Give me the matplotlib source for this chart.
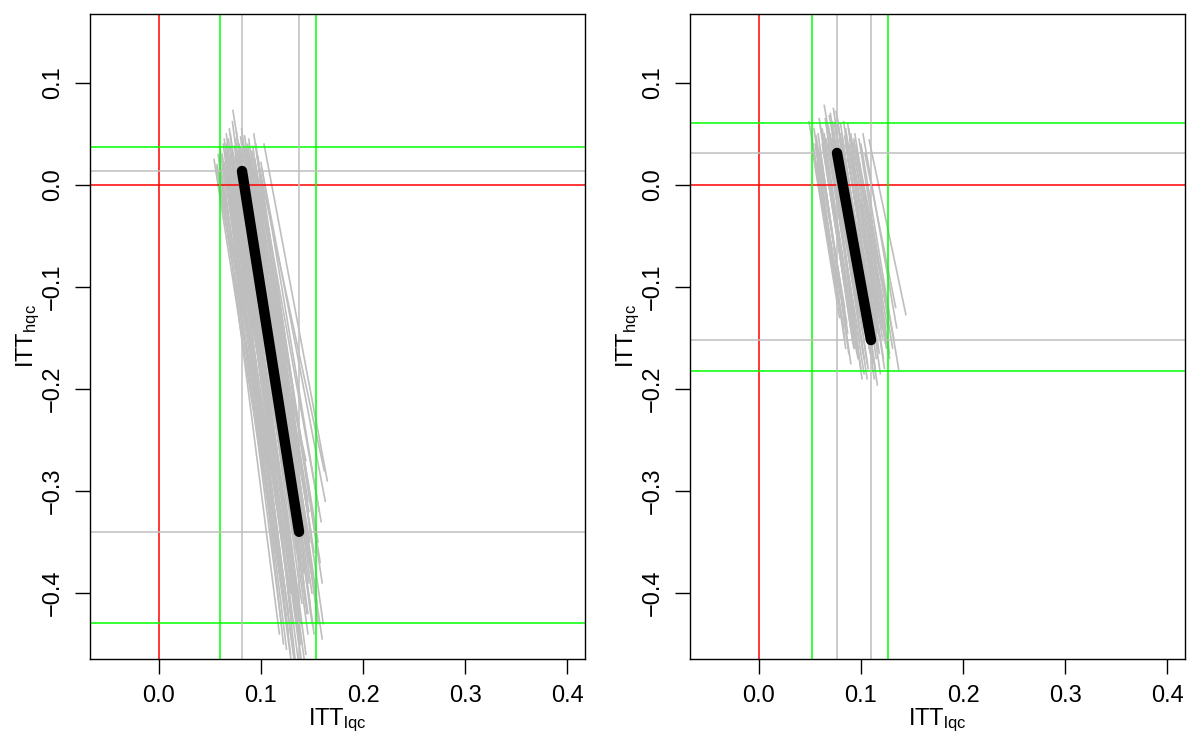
import matplotlib
matplotlib.use('Agg')
from matplotlib import pyplot as plt

plt.rcParams['font.family'] = ['Liberation Sans', 'DejaVu Sans']
plt.rcParams['mathtext.fontset'] = 'custom'
plt.rcParams['mathtext.rm'] = 'Liberation Sans'
plt.rcParams['mathtext.it'] = 'Liberation Sans'

# ---- left panel ----
# grey bootstrap segments: x_top, y_top, x_bottom, y_bottom
left_x0 = [0.0725, 0.066, 0.054, 0.057, 0.060, 0.062, 0.064, 0.068, 0.070, 0.074,
           0.076, 0.078, 0.080, 0.082, 0.085, 0.087, 0.089, 0.091, 0.094, 0.096,
           0.100, 0.103, 0.098, 0.058, 0.061, 0.065, 0.071, 0.073, 0.079, 0.083,
           0.086, 0.090, 0.093, 0.069, 0.067, 0.077, 0.081, 0.088, 0.095, 0.084,
           0.0635, 0.0655, 0.0675, 0.0695, 0.0715, 0.0735, 0.0755, 0.0775, 0.0795, 0.0805,
           0.0825, 0.0845, 0.0865, 0.0885, 0.0905, 0.0925, 0.0945, 0.0965, 0.0990, 0.1010,
           0.0600, 0.0560, 0.0590, 0.0630, 0.0660, 0.0690, 0.0720, 0.0750, 0.0810, 0.0840,
           0.0870, 0.0920, 0.0970, 0.0765, 0.0785, 0.0855, 0.0895, 0.0705, 0.0745, 0.0835,
           0.0580, 0.0640, 0.0700, 0.0930]
left_y0 = [0.073, 0.040, 0.025, 0.020, 0.035, 0.030, 0.022, 0.045, 0.050, 0.038,
           0.052, 0.030, 0.047, 0.042, 0.035, 0.040, 0.028, 0.033, 0.025, 0.030,
           0.022, 0.040, 0.018, 0.010, 0.005, 0.015, 0.012, 0.020, 0.015, 0.018,
           0.010, 0.012, 0.005, 0.028, 0.000, 0.005, 0.025, 0.045, 0.040, 0.000,
           0.018, 0.032, 0.010, 0.038, 0.026, 0.008, 0.034, 0.022, 0.036, 0.008,
           0.030, 0.022, 0.028, 0.018, 0.024, 0.016, 0.012, 0.008, 0.004, 0.015,
           0.015, 0.018, 0.028, 0.040, 0.050, 0.055, 0.062, 0.045, 0.055, 0.048,
           0.035, 0.038, 0.028, 0.012, 0.040, 0.006, 0.002, 0.004, 0.028, 0.014,
           0.030, 0.045, 0.035, 0.050]
left_x1 = [0.136, 0.124, 0.111, 0.118, 0.120, 0.130, 0.132, 0.128, 0.135, 0.138,
           0.140, 0.142, 0.145, 0.139, 0.147, 0.150, 0.152, 0.146, 0.153, 0.158,
           0.157, 0.165, 0.162, 0.116, 0.125, 0.127, 0.133, 0.137, 0.141, 0.143,
           0.148, 0.155, 0.160, 0.122, 0.126, 0.131, 0.134, 0.149, 0.156, 0.144,
           0.121, 0.126, 0.129, 0.131, 0.134, 0.132, 0.139, 0.138, 0.144, 0.140,
           0.146, 0.143, 0.148, 0.147, 0.151, 0.152, 0.154, 0.156, 0.159, 0.163,
           0.119, 0.113, 0.121, 0.127, 0.133, 0.137, 0.139, 0.143, 0.146, 0.147,
           0.150, 0.155, 0.160, 0.136, 0.140, 0.145, 0.149, 0.130, 0.135, 0.142,
           0.118, 0.125, 0.129, 0.161]
left_y1 = [-0.33, -0.40, -0.34, -0.38, -0.43, -0.47, -0.46, -0.35, -0.41, -0.44,
           -0.47, -0.39, -0.42, -0.33, -0.37, -0.40, -0.44, -0.31, -0.34, -0.37,
           -0.32, -0.29, -0.28, -0.31, -0.36, -0.42, -0.38, -0.45, -0.36, -0.30,
           -0.35, -0.41, -0.445, -0.45, -0.33, -0.29, -0.47, -0.38, -0.43, -0.27,
           -0.35, -0.39, -0.40, -0.43, -0.42, -0.34, -0.43, -0.37, -0.46, -0.34,
           -0.44, -0.33, -0.41, -0.32, -0.39, -0.36, -0.40, -0.35, -0.33, -0.31,
           -0.33, -0.32, -0.40, -0.44, -0.47, -0.47, -0.45, -0.47, -0.42, -0.39,
           -0.43, -0.42, -0.39, -0.40, -0.41, -0.36, -0.34, -0.37, -0.36, -0.38,
           -0.44, -0.455, -0.46, -0.43]
left_est = [0.0814, 0.0137, 0.1373, -0.340]   # black line: x0, y0, x1, y1
left_ci_x = [0.0598, 0.1539]
left_ci_y = [0.0373, -0.4294]

# ---- right panel ----
right_x0 = [0.064, 0.0755, 0.049, 0.052, 0.053, 0.055, 0.058, 0.060, 0.062, 0.066,
            0.068, 0.070, 0.072, 0.074, 0.078, 0.080, 0.082, 0.085, 0.088, 0.090,
            0.093, 0.096, 0.100, 0.108, 0.104, 0.057, 0.061, 0.065, 0.067, 0.071,
            0.076, 0.079, 0.083, 0.087, 0.091, 0.059, 0.069, 0.073,
            0.056, 0.058, 0.060, 0.062, 0.064, 0.066, 0.068, 0.070, 0.072, 0.074,
            0.076, 0.078, 0.080, 0.082, 0.084, 0.086, 0.088, 0.090, 0.092, 0.094,
            0.096, 0.098, 0.102, 0.070, 0.065, 0.077, 0.083, 0.087, 0.054, 0.063,
            0.071, 0.079, 0.085, 0.089, 0.095]
right_y0 = [0.078, 0.072, 0.062, 0.045, 0.030, 0.040, 0.050, 0.035, 0.055, 0.060,
            0.040, 0.050, 0.045, 0.060, 0.055, 0.050, 0.045, 0.055, 0.040, 0.050,
            0.045, 0.035, 0.040, 0.044, 0.030, 0.020, 0.025, 0.030, 0.020, 0.035,
            0.030, 0.025, 0.030, 0.025, 0.020, 0.065, 0.068, 0.075,
            0.048, 0.030, 0.058, 0.040, 0.050, 0.045, 0.058, 0.028, 0.062, 0.040,
            0.050, 0.038, 0.060, 0.032, 0.048, 0.035, 0.055, 0.030, 0.042, 0.050,
            0.028, 0.045, 0.050, 0.070, 0.065, 0.065, 0.062, 0.060, 0.055, 0.035,
            0.042, 0.045, 0.040, 0.045, 0.038]
right_x1 = [0.098, 0.110, 0.083, 0.075, 0.079, 0.085, 0.088, 0.090, 0.094, 0.100,
            0.103, 0.098, 0.106, 0.108, 0.112, 0.116, 0.115, 0.118, 0.120, 0.125,
            0.128, 0.132, 0.137, 0.144, 0.134, 0.080, 0.087, 0.092, 0.096, 0.101,
            0.105, 0.109, 0.113, 0.117, 0.121, 0.091, 0.104, 0.099,
            0.086, 0.084, 0.093, 0.091, 0.097, 0.098, 0.102, 0.099, 0.107, 0.105,
            0.109, 0.108, 0.114, 0.111, 0.116, 0.116, 0.122, 0.119, 0.124, 0.128,
            0.127, 0.131, 0.135, 0.106, 0.101, 0.113, 0.119, 0.123, 0.084, 0.094,
            0.103, 0.111, 0.118, 0.121, 0.126]
right_y1 = [-0.12, -0.15, -0.14, -0.10, -0.13, -0.16, -0.165, -0.175, -0.15, -0.18,
            -0.185, -0.17, -0.19, -0.16, -0.175, -0.196, -0.17, -0.15, -0.14, -0.16,
            -0.17, -0.15, -0.181, -0.127, -0.12, -0.11, -0.145, -0.155, -0.165, -0.14,
            -0.13, -0.12, -0.135, -0.125, -0.11, -0.125, -0.145, -0.11,
            -0.135, -0.12, -0.16, -0.14, -0.17, -0.15, -0.165, -0.13, -0.18, -0.15,
            -0.165, -0.14, -0.18, -0.13, -0.16, -0.145, -0.17, -0.125, -0.155, -0.165,
            -0.13, -0.16, -0.14, -0.175, -0.19, -0.19, -0.185, -0.18, -0.15, -0.16,
            -0.17, -0.155, -0.165, -0.15, -0.14]
right_est = [0.0765, 0.0314, 0.1098, -0.152]
right_ci_x = [0.052, 0.1265]
right_ci_y = [0.0608, -0.1824]

xticks = [0.0, 0.1, 0.2, 0.3, 0.4]
yticks = [-0.4, -0.3, -0.2, -0.1, 0.0, 0.1]


def fmt(t):
    s = '%.1f' % abs(t)
    return '\u2212' + s if t < 0 else s


fig = plt.figure(figsize=(12, 7.5), dpi=100)
ax1 = fig.add_axes([0.075, 0.1213, 0.4125, 0.86])
ax2 = fig.add_axes([0.575, 0.1213, 0.4125, 0.86])

panels = [
    (ax1, left_x0, left_y0, left_x1, left_y1, left_est, left_ci_x, left_ci_y),
    (ax2, right_x0, right_y0, right_x1, right_y1, right_est, right_ci_x, right_ci_y),
]

for ax, x0, y0, x1, y1, est, cix, ciy in panels:
    for i in range(len(x0)):
        ax.plot([x0[i], x1[i]], [y0[i], y1[i]], color='#bebebe', lw=1.2, zorder=1)
    ax.axvline(0, color='red', lw=1.1, zorder=2)
    ax.axhline(0, color='red', lw=1.1, zorder=2)
    for v in cix:
        ax.axvline(v, color='#00ff00', lw=1.1, zorder=2)
    for v in ciy:
        ax.axhline(v, color='#00ff00', lw=1.1, zorder=2)
    ax.axvline(est[0], color='#bebebe', lw=1.1, zorder=2)
    ax.axvline(est[2], color='#bebebe', lw=1.1, zorder=2)
    ax.axhline(est[1], color='#bebebe', lw=1.1, zorder=2)
    ax.axhline(est[3], color='#bebebe', lw=1.1, zorder=2)
    ax.plot([est[0], est[2]], [est[1], est[3]], color='black', lw=7.5,
            solid_capstyle='round', zorder=3)

    ax.set_xlim(-0.0676, 0.4176)
    ax.set_ylim(-0.4647, 0.1676)
    ax.set_xticks(xticks)
    ax.set_xticklabels([fmt(t) for t in xticks])
    ax.set_yticks(yticks)
    ax.set_yticklabels([fmt(t) for t in yticks], rotation=90, va='center')
    ax.tick_params(direction='out', length=10.5, width=1, labelsize=17, pad=8)
    for s in ax.spines.values():
        s.set_linewidth(1)
    ax.set_xlabel(r'$\mathrm{ITT}_{\mathrm{lqc}}$', fontsize=17, labelpad=0)
    ax.set_ylabel(r'$\mathrm{ITT}_{\mathrm{hqc}}$', fontsize=17, labelpad=0)

fig.savefig('out.png', dpi=100)
